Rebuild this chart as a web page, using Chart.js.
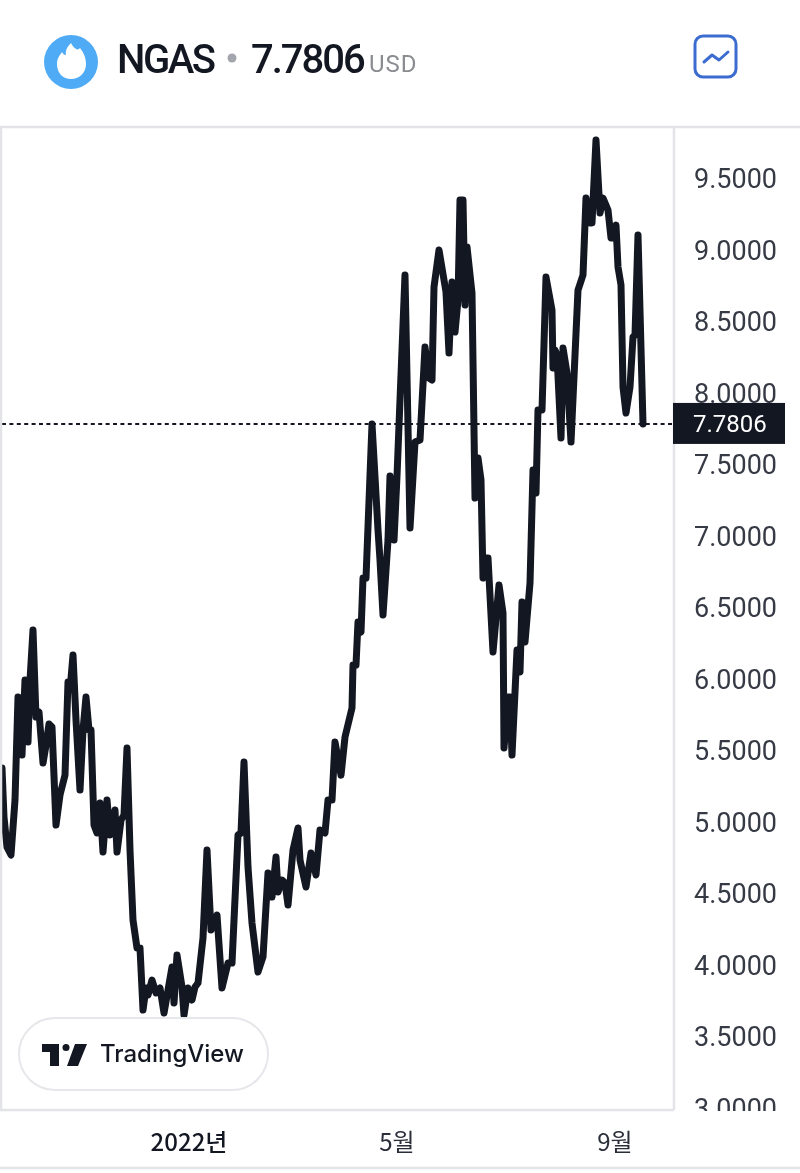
<!DOCTYPE html>
<html>
<head>
<meta charset="utf-8">
<style>
  html, body { margin: 0; padding: 0; background: #fff; }
  #wrap { position: relative; width: 800px; height: 1173px; overflow: hidden; }
  #chart { position: absolute; left: 0; top: 0; }
  #overlay { position: absolute; left: 0; top: 0; }
  #overlay text { font-family: Roboto, sans-serif; }
</style>
</head>
<body>
<div id="wrap">
  <canvas id="chart" width="800" height="1173"></canvas>
  <svg id="overlay" width="800" height="1173" viewBox="0 0 800 1173">
    <!-- header -->
    <ellipse cx="71" cy="62" rx="27" ry="27" fill="#4fabf5"/>
    <path d="M71 43C74 49 78 51 80 48C84 53 86 58 86 64C86 73 79 79 71 79C63 79 57 73 57 64C57 58 60 55 62 52C63 54 64 55 66 55C65 50 68 46 71 43z" fill="#fff"/>
    <text x="117" y="73" font-size="40" font-weight="500" fill="#131722" style="letter-spacing:-2.5px">NGAS</text>
    <circle cx="232" cy="58" r="4.5" fill="#a3a6ad"/>
    <text x="251" y="73" font-size="40" font-weight="500" fill="#131722" style="letter-spacing:-2px">7.7806</text>
    <text x="369" y="72" font-size="24" fill="#8a8c91" style="letter-spacing:1px">USD</text>
    <rect x="695" y="36" width="41" height="41" rx="8" fill="#fff" stroke="#3d6cd0" stroke-width="3"/>
    <path d="M704 62l8-7 7 5 9-8" fill="none" stroke="#3d6cd0" stroke-width="3" stroke-linejoin="round" stroke-linecap="round"/>
    <!-- TradingView badge -->
    <rect x="19" y="1018" width="249" height="72" rx="36" fill="#fff" stroke="#e6e7ea" stroke-width="2"/>
    <path d="M42 1044h17v22h-9v-14h-8z" fill="#131722"/>
    <circle cx="66" cy="1047.500" r="3.500" fill="#131722"/>
    <path d="M75 1044h12l-9 22h-11z" fill="#131722"/>
    <text x="100" y="1062" font-size="24" font-weight="500" fill="#131722" style="font-family:Inter,sans-serif">TradingView</text>
  </svg>
</div>
<script src="https://cdn.jsdelivr.net/npm/chart.js@4/dist/chart.umd.min.js"></script>
<script>
// trading day number, counted from the left edge of the chart
const barIndex = [0,0.8,2,3.6,5.2,6.4,8,9.2,10.4,11.2,12.4,13.6,14.8,16.4,17.6,18.8,20,21.6,23.2,25.2,26.4,27.2,28.4,29.6,31.2,32.4,33.6,34.8,35.6,36.8,38,39.2,40.4,42,43.2,45.2,46,47.6,48.8,50,51.2,52.4,54,55.2,56.4,57.6,58.4,60,61.6,63.2,64.8,68,68.8,70,72,72.8,74.4,76,77.2,78.4,80.4,82,83.6,86,88,90.4,92,94.4,95.6,96.8,98.4,100,102.4,104.4,106.4,108,109.6,110.4,112,113.2,114.4,116.4,118.4,119.2,121.6,123.6,125.6,127.2,129.2,130.4,132,133.2,135.6,137.2,140,140.4,141.6,142.4,143.6,144.4,145.6,148,150.4,151.2,152.4,154.4,155.2,156.8,158,159.2,161.2,163.2,165.2,167.2,169.2,170.8,172,172.8,174.8,177.6,178.8,180,181.2,182.4,183.2,184.4,185.2,186,188,189.2,190.4,191.6,192.4,193.2,194.4,196.4,198.8,200.4,200.8,202.4,203.2,204,206,207.2,208,209.2,211.2,212.4,213.6,214.4,216,217.6,220,220.4,221.2,222,223.6,224.4,226,227.6,230.4,232.4,233.6,235.2,236,237.6,239.2,240.4,242.4,243.6,244.4,245.6,246.4,247.6,248.4,249.6,251.2,252.4,253.2,254.4,256.4];
const closePrice = [5.374,5.031,4.821,4.766,5.150,5.871,5.465,5.990,5.556,5.990,6.339,5.731,5.766,5.409,5.535,5.682,5.661,4.976,5.186,5.325,5.976,5.920,6.165,5.710,5.221,5.640,5.871,5.640,5.640,4.976,4.920,5.130,4.787,5.150,4.906,5.081,4.787,5.011,5.046,5.514,4.801,4.311,4.116,4.116,3.682,3.836,3.787,3.892,3.801,3.836,3.661,3.983,3.731,4.067,3.843,3.647,3.836,3.752,3.843,3.871,4.186,4.801,4.241,4.346,3.836,4.011,4.011,4.906,4.920,5.416,4.682,4.290,3.948,4.053,4.640,4.472,4.752,4.507,4.591,4.570,4.416,4.801,4.955,4.731,4.542,4.780,4.626,4.941,4.920,5.150,5.150,5.556,5.325,5.591,5.794,6.095,6.095,6.395,6.325,6.703,6.703,7.780,7.039,6.829,6.444,6.969,7.416,6.969,7.416,7.948,8.822,7.053,7.654,7.668,8.318,8.101,8.087,8.738,8.997,8.703,8.276,8.773,8.423,8.647,9.346,9.346,8.612,9.018,8.696,7.262,7.542,7.388,6.703,6.843,6.843,6.186,6.654,6.458,5.514,5.871,5.871,5.465,6.200,6.046,6.535,6.256,6.668,7.458,7.297,7.878,7.878,8.808,8.577,8.172,8.297,8.262,7.682,8.311,8.137,7.654,8.717,8.822,9.360,9.186,9.186,9.766,9.255,9.360,9.276,9.081,9.081,9.171,8.878,8.752,8.039,7.857,8.039,8.388,8.402,9.102,7.7806];
const lastPrice = 7.7806;
const dateTickBars = [74.8, 158, 245.2];
const dateTickLabels = ["2022년", "5월", "9월"];
const priceTicks = [3, 3.5, 4, 4.5, 5, 5.5, 6, 6.5, 7, 7.5, 8, 8.5, 9, 9.5];
const barMin = 0, barMax = 268.8;
const priceMin = 2.983, priceMax = 9.857;

const INK = "#131722";
const FRAME = "#e2e4e8";

// frame lines, clipped bottom tick and the last price tag
const framePlugin = {
  id: "frame",
  afterDraw(chart) {
    const ctx = chart.ctx, a = chart.chartArea;
    // the lowest tick label is cut off at the pane's bottom edge
    ctx.save();
    ctx.fillStyle = "#fff";
    ctx.fillRect(a.right + 1, a.bottom + 1, 800 - a.right, 40);
    ctx.strokeStyle = FRAME;
    ctx.lineWidth = 2.5;
    ctx.beginPath();
    ctx.moveTo(0, a.top); ctx.lineTo(800, a.top);
    ctx.moveTo(a.left - 1, a.top); ctx.lineTo(a.left - 1, a.bottom);
    ctx.moveTo(a.right, a.top); ctx.lineTo(a.right, a.bottom);
    ctx.moveTo(0, a.bottom); ctx.lineTo(a.right, a.bottom);
    ctx.moveTo(0, 1168); ctx.lineTo(800, 1168);
    ctx.stroke();

    const y = chart.scales.y.getPixelForValue(lastPrice);
    ctx.fillStyle = INK;
    ctx.fillRect(a.right - 1, y - 21, 112, 41);
    ctx.fillStyle = "#fff";
    ctx.font = "24px Roboto";
    ctx.textAlign = "left";
    ctx.textBaseline = "middle";
    ctx.fillText(lastPrice.toFixed(4), 693, y + 2);
    ctx.restore();
  }
};

new Chart(document.getElementById("chart").getContext("2d"), {
  type: "line",
  data: {
    datasets: [{
      data: barIndex.map((b, i) => ({ x: b, y: closePrice[i] })),
      borderColor: INK,
      borderWidth: 7,
      borderJoinStyle: "round",
      borderCapStyle: "round",
      pointRadius: 0,
      tension: 0
    }, {
      data: [{ x: barMin, y: lastPrice }, { x: barMax, y: lastPrice }],
      borderColor: INK,
      borderWidth: 2,
      borderDash: [4, 3.4],
      pointRadius: 0
    }]
  },
  options: {
    responsive: false,
    animation: false,
    layout: { padding: { top: 127, left: 2, right: 0, bottom: 0 } },
    plugins: { legend: { display: false }, tooltip: { enabled: false } },
    scales: {
      x: {
        type: "linear",
        min: barMin,
        max: barMax,
        grid: { display: false },
        border: { display: false },
        afterBuildTicks: axis => { axis.ticks = dateTickBars.map(v => ({ value: v })); },
        afterFit: axis => { axis.height = 63; },
        ticks: {
          autoSkip: false,
          maxRotation: 0,
          padding: 9,
          color: ctx => ctx.index === 0 ? INK : "#2a2e39",
          font: ctx => ({ family: "'Noto Sans CJK KR'", size: 24, weight: ctx.index === 0 ? "500" : "400" }),
          callback: (v, i) => dateTickLabels[i]
        }
      },
      y: {
        position: "right",
        min: priceMin,
        max: priceMax,
        grid: { display: false, drawTicks: false },
        border: { display: false },
        afterBuildTicks: axis => { axis.ticks = priceTicks.map(v => ({ value: v })); },
        afterFit: axis => { axis.width = 126; },
        ticks: {
          padding: 20,
          autoSkip: false,
          color: "#363a45",
          // empty first line and a short line height push the labels down a little
          font: { family: "Roboto", size: 27, lineHeight: 0.26 },
          callback: v => ["", v.toFixed(4)]
        }
      }
    }
  },
  plugins: [framePlugin]
});
</script>
</body>
</html>
